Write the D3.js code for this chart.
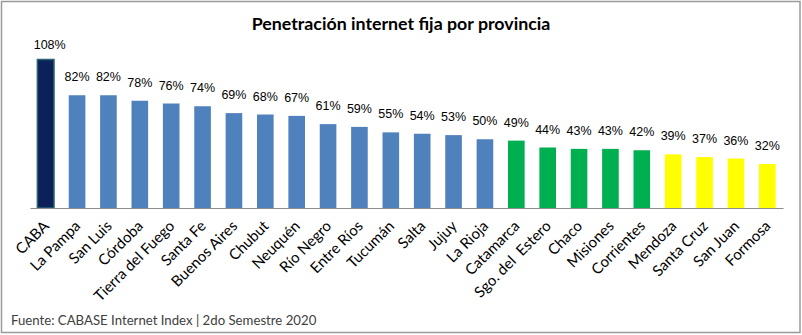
<!DOCTYPE html>
<html><head><meta charset="utf-8">
<script src="https://cdn.jsdelivr.net/npm/d3@7"></script>
<style>body{margin:0;background:#fff}svg{display:block}</style>
</head><body>
<script>
const provinces = ["CABA","La Pampa","San Luis","Córdoba","Tierra del Fuego","Santa Fe","Buenos Aires","Chubut","Neuquén","Río Negro","Entre Ríos","Tucumán","Salta","Jujuy","La Rioja","Catamarca","Sgo. del\u00A0 Estero","Chaco","Misiones","Corrientes","Mendoza","Santa Cruz","San Juan","Formosa"];
const penetration = [108,82,82,78,76,74,69,68,67,61,59,55,54,53,50,49,44,43,43,42,39,37,36,32];
const groups = ["top","high","high","high","high","high","high","high","high","high","high","high","high","high","high","mid","mid","mid","mid","mid","low","low","low","low"];
const title = "Penetración internet fija por provincia";
const source = "Fuente: CABASE Internet Index | 2do Semestre 2020";

const W = 802, H = 335;
const colors = {top:"#0B2157", high:"#4F81BD", mid:"#00B050", low:"#FFFF00"};
const strokes = {top:"#2A6470", high:"none", mid:"none", low:"none"};

const svg = d3.select("body").append("svg").attr("width", W).attr("height", H);
svg.append("rect").attr("x",1.5).attr("y",1.5).attr("width",W-3.5).attr("height",H-4)
  .attr("fill","#fff").attr("stroke","#9a9a9a").attr("stroke-width",1.5);

const x = d3.scaleBand().domain(provinces).range([30, 783]).paddingInner(0.47).paddingOuter(0.235);
const y = d3.scaleLinear().domain([0, 108]).range([208, 59.5]);

svg.append("text").attr("x", 401).attr("y", 30).attr("text-anchor","middle")
  .attr("font-family","Lato, 'Open Sans', sans-serif").attr("font-weight","bold").attr("font-size",17.8)
  .attr("fill","#000").text(title);

svg.selectAll("rect.bar").data(provinces).join("rect").attr("class","bar")
  .attr("x", d => x(d)).attr("width", x.bandwidth())
  .attr("y", (d,i) => y(penetration[i])).attr("height", (d,i) => y(0) - y(penetration[i]))
  .attr("fill", (d,i) => colors[groups[i]])
  .attr("stroke", (d,i) => strokes[groups[i]]).attr("stroke-width", 1.5);

svg.selectAll("text.val").data(provinces).join("text").attr("class","val")
  .attr("x", (d,i) => x(d) + x.bandwidth()/2 + (y(penetration[i]) - 14 < 49 ? 4 : 0))
  .attr("y", (d,i) => Math.max(y(penetration[i]) - 14, 49))
  .attr("text-anchor","middle").attr("font-family","'Liberation Sans', Arial, sans-serif")
  .attr("font-size",12.5).attr("fill","#000").text((d,i) => penetration[i] + "%");

const axis = d3.axisBottom(x).tickSize(0).tickPadding(0);
const gx = svg.append("g").attr("transform","translate(0,208)").call(axis);
gx.select(".domain").attr("stroke","#8c8c8c").attr("stroke-width",1.2);
gx.selectAll(".tick text")
  .attr("font-family","Lato, 'Open Sans', sans-serif").attr("font-size",15).attr("fill","#000")
  .attr("text-anchor","end").attr("dy",0)
  .attr("transform","translate(" + (x.bandwidth()/2 - 4) + ",19) rotate(-45)")
  .attr("y",0).attr("x",0);

svg.append("text").attr("x", 11).attr("y", 325)
  .attr("font-family","Lato, 'Open Sans', sans-serif").attr("font-size",13.2).attr("fill","#404040")
  .text(source);
</script>
</body></html>
